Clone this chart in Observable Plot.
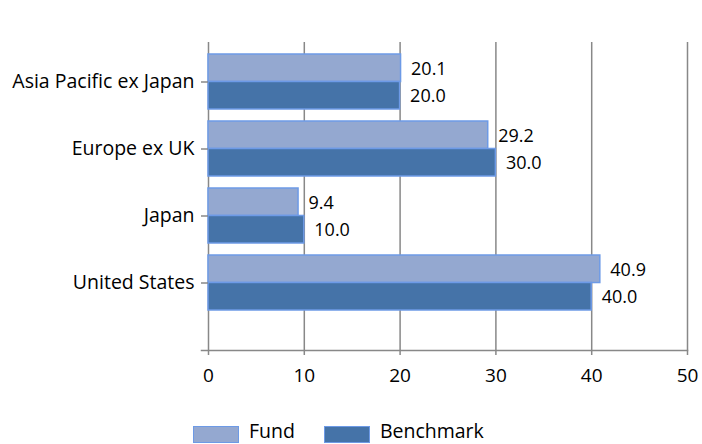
<!DOCTYPE html>
<html>
<head>
<meta charset="utf-8">
<script src="https://cdn.jsdelivr.net/npm/d3@7"></script>
<script src="https://cdn.jsdelivr.net/npm/@observablehq/plot@0.6"></script>
<style>
  body { margin: 0; background: #fff; font-family: "Open Sans", sans-serif; }
  #chart { position: relative; width: 702px; height: 444px; overflow: hidden; }
  .legend { position: absolute; left: 193px; top: 421px; display: flex; font-size: 19.5px; line-height: 20px; color: #000; }
  .legend .item { display: flex; align-items: flex-start; margin-right: 29px; }
  .legend .sw { box-sizing: border-box; width: 46px; height: 17px; margin-top: 5px; border: 1.5px solid #6d9ae6; margin-right: 10px; }
</style>
</head>
<body>
<div id="chart"></div>
<script>
const categories = ["Asia Pacific ex Japan", "Europe ex UK", "Japan", "United States"];
const fund = [20.1, 29.2, 9.4, 40.9];
const benchmark = [20.0, 30.0, 10.0, 40.0];
const xTicks = [0, 10, 20, 30, 40, 50];
const seriesNames = ["Fund", "Benchmark"];
const colors = {Fund: "#94a8d0", Benchmark: "#4573a8"};

const rows = categories.flatMap((c, i) => [
  {category: c, series: "Fund", value: fund[i]},
  {category: c, series: "Benchmark", value: benchmark[i]}
]);
const fundRows = rows.filter(d => d.series === "Fund");
const benchRows = rows.filter(d => d.series === "Benchmark");

const H = 412;
const step = 67, padIn = 0.18;
const half = step * (1 - padIn) / 2;

const plot = Plot.plot({
  width: 702,
  height: H,
  marginTop: 42,
  marginBottom: H - 350,
  marginLeft: 208,
  marginRight: 15,
  style: {fontFamily: "'Open Sans', sans-serif", fontSize: "16px", color: "#000", background: "#fff"},
  x: {domain: [0, 50], ticks: xTicks, label: null},
  y: {domain: categories, range: [47.5, 315.5], paddingInner: padIn, paddingOuter: padIn / 2, label: null},
  marks: [
    Plot.gridX(xTicks.filter(t => t > 0), {stroke: "#888", strokeOpacity: 1, strokeWidth: 1.5}),
    Plot.ruleX([0], {stroke: "#888", strokeWidth: 1.5}),
    Plot.frame({anchor: "bottom", stroke: "#888", strokeWidth: 1.5, insetLeft: -7}),
    Plot.barX(fundRows, {x: "value", y: "category", fill: colors.Fund, stroke: "#6d9ae6", strokeWidth: 1.5, insetBottom: half, insetTop: 0}),
    Plot.barX(benchRows, {x: "value", y: "category", fill: colors.Benchmark, stroke: "#6d9ae6", strokeWidth: 1.5, insetTop: half, insetBottom: 0}),
    Plot.text(fundRows, {x: "value", y: "category", text: d => d.value.toFixed(1), dx: 10, dy: -half / 2 + 1, textAnchor: "start", fill: "#000", fontSize: 18}),
    Plot.text(benchRows, {x: "value", y: "category", text: d => d.value.toFixed(1), dx: 10, dy: half / 2, textAnchor: "start", fill: "#000", fontSize: 18}),
    Plot.axisX({ticks: xTicks, tickSize: 5, tickPadding: 13, stroke: "#888", strokeWidth: 1.5, fontSize: 19, label: null}),
    Plot.axisY({tickSize: 7, tickPadding: 7, stroke: "#888", strokeWidth: 1.5, fontSize: 19.5, label: null})
  ]
});
document.getElementById("chart").appendChild(plot);

const legend = document.createElement("div");
legend.className = "legend";
seriesNames.forEach(s => {
  const item = document.createElement("div");
  item.className = "item";
  const sw = document.createElement("div");
  sw.className = "sw";
  sw.style.background = colors[s];
  const t = document.createElement("span");
  t.textContent = s;
  item.appendChild(sw);
  item.appendChild(t);
  legend.appendChild(item);
});
document.getElementById("chart").appendChild(legend);
</script>
</body>
</html>
